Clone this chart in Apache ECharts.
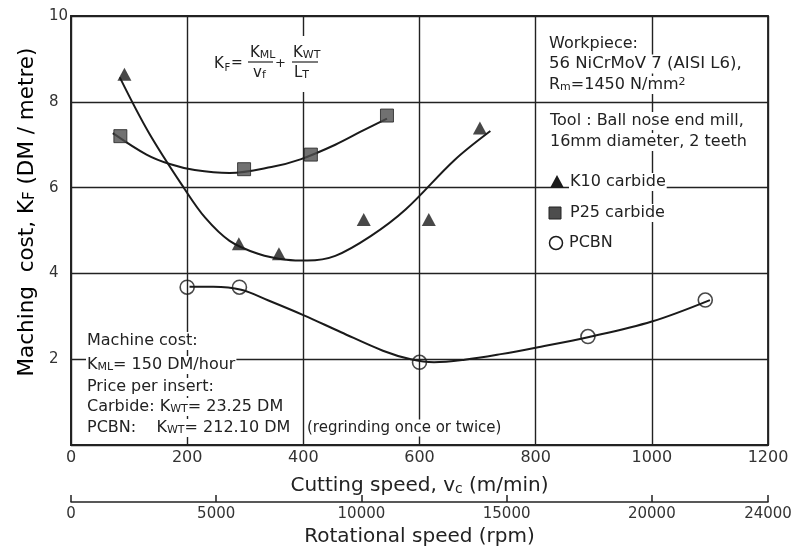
<!DOCTYPE html>
<html>
<head>
<meta charset="utf-8">
<script src="https://cdn.jsdelivr.net/npm/echarts@6/dist/echarts.min.js"></script>
<style>
  html, body { margin: 0; padding: 0; background: #fff; }
  #chart { width: 797px; height: 552px; }
</style>
</head>
<body>
<div id="chart"></div>
<script>
// Measured machining cost K_F (DM per metre) against cutting speed v_c (m/min)
const k10Speed = [92, 289, 358, 504, 616, 704];
const k10Cost  = [8.64, 4.69, 4.46, 5.26, 5.26, 7.39];
const p25Speed = [85, 298, 413, 544];
const p25Cost  = [7.2, 6.43, 6.77, 7.68];
const pcbnSpeed = [200, 290, 600, 890, 1092];
const pcbnCost  = [3.68, 3.68, 1.93, 2.53, 3.38];

// Hand-fitted trend curves through each tool's results
const k10FitSpeed = [84, 134, 195, 231, 273, 322, 371, 407, 455, 516, 576, 660, 722];
const k10FitCost  = [8.57, 7.28, 5.98, 5.3, 4.76, 4.46, 4.32, 4.30, 4.41, 4.87, 5.49, 6.64, 7.32];
const p25FitSpeed = [72, 130, 170, 213, 273, 345, 395, 455, 504, 544];
const p25FitCost  = [7.27, 6.77, 6.55, 6.41, 6.34, 6.48, 6.66, 7.0, 7.34, 7.61];
const pcbnFitSpeed = [204, 245, 293, 340, 400, 465, 537, 585, 625, 678, 740, 800, 892, 1000, 1100];
const pcbnFitCost  = [3.69, 3.69, 3.62, 3.37, 3.03, 2.63, 2.2, 2.0, 1.93, 1.99, 2.12, 2.27, 2.52, 2.88, 3.38];

// Axis ranges and tick steps
const speedRange = [0, 1200];   const speedStep = 200;
const rpmRange = [0, 24000];    const rpmStep = 5000;
const costRange = [0, 10];      const costStep = 2;

const FONT = 'DejaVu Sans';
const INK = '#222';

const pairs = (xs, ys) => xs.map((x, i) => [x, ys[i]]);

const subRich = (size) => ({
  t: { fontFamily: FONT, fontSize: size, color: INK },
  s: { fontFamily: FONT, fontSize: Math.round(size * 0.7), color: INK, verticalAlign: 'bottom', lineHeight: 7 },
  p: { fontFamily: FONT, fontSize: Math.round(size * 0.7), color: INK, verticalAlign: 'top', lineHeight: 8 }
});

function note(x, y, text, size, bg) {
  return {
    type: 'text', x: x, y: y, z: 20,
    style: {
      text: text, rich: subRich(size),
      fontFamily: FONT, fontSize: size, fill: INK,
      verticalAlign: 'middle', align: 'left',
      backgroundColor: bg ? '#fff' : 'transparent',
      padding: bg ? [1, 1] : 0
    }
  };
}

function plain(x, y, text, size) {
  return {
    type: 'text', x: x, y: y, z: 20,
    style: { text: text, fontFamily: FONT, fontSize: size, fill: INK, verticalAlign: 'middle', align: 'left' }
  };
}

const trend = (xs, ys) => ({
  type: 'line', data: pairs(xs, ys), smooth: 0.35,
  symbol: 'none', lineStyle: { color: '#1a1a1a', width: 2 }, z: 3, silent: true
});

const chart = echarts.init(document.getElementById('chart'), null, { renderer: 'canvas' });

chart.setOption({
  backgroundColor: '#fff',
  animation: false,
  grid: {
    left: 71, right: 29, top: 16, bottom: 101,
    show: true, borderColor: INK, borderWidth: 1.8, backgroundColor: 'transparent'
  },
  xAxis: [
    {
      type: 'value', min: speedRange[0], max: speedRange[1], interval: speedStep,
      position: 'bottom',
      name: '{t|Cutting speed, v}{s|c}{t| (m/min)}',
      nameLocation: 'middle', nameGap: 31,
      nameTextStyle: { rich: subRich(20) },
      axisLine: { show: true, lineStyle: { color: INK, width: 1.8 } },
      axisTick: { show: false },
      axisLabel: { fontFamily: FONT, fontSize: 16, color: '#333', margin: 5, formatter: v => String(v) },
      splitLine: { show: true, lineStyle: { color: INK, width: 1.4 } }
    },
    {
      type: 'value', min: rpmRange[0], max: rpmRange[1], interval: rpmStep,
      position: 'bottom', offset: 57,
      name: 'Rotational speed (rpm)',
      nameLocation: 'middle', nameGap: 21,
      nameTextStyle: { fontFamily: FONT, fontSize: 20, color: INK },
      axisLine: { show: true, lineStyle: { color: INK, width: 1.5 } },
      axisTick: { show: true, inside: true, length: 7, lineStyle: { color: INK, width: 1.5 } },
      axisLabel: { fontFamily: FONT, fontSize: 15, color: '#333', margin: 5, showMaxLabel: true, formatter: v => String(v) },
      splitLine: { show: false }
    }
  ],
  yAxis: {
    type: 'value', min: costRange[0], max: costRange[1], interval: costStep,
    axisLine: { show: true, lineStyle: { color: INK, width: 1.8 } },
    axisTick: { show: false },
    axisLabel: {
      fontFamily: FONT, fontSize: 15, color: '#333', margin: 22, align: 'left',
      formatter: v => (v === 0 ? '' : String(v))
    },
    splitLine: { show: true, lineStyle: { color: INK, width: 1.4 } }
  },
  series: [
    trend(k10FitSpeed, k10FitCost),
    trend(p25FitSpeed, p25FitCost),
    trend(pcbnFitSpeed, pcbnFitCost),
    {
      name: 'K10 carbide', type: 'scatter', data: pairs(k10Speed, k10Cost),
      symbol: 'triangle', symbolSize: [14, 13], itemStyle: { color: '#1a1a1a' }, z: 5
    },
    {
      name: 'P25 carbide', type: 'scatter', data: pairs(p25Speed, p25Cost),
      symbol: 'rect', symbolSize: 13, itemStyle: { color: '#4d4d4d', borderColor: '#222', borderWidth: 1 }, z: 5
    },
    {
      name: 'PCBN', type: 'scatter', data: pairs(pcbnSpeed, pcbnCost),
      symbol: 'circle', symbolSize: 14, itemStyle: { color: 'rgba(255,255,255,0)', borderColor: '#1a1a1a', borderWidth: 1.6 }, z: 5
    }
  ],
  graphic: [
    // vertical axis title
    {
      type: 'text', x: 27, y: 212, rotation: Math.PI / 2, z: 20,
      style: {
        text: '{t|Maching  cost, K}{s|F}{t| (DM / metre)}', rich: subRich(21.5),
        align: 'center', verticalAlign: 'middle'
      }
    },

    // cost formula
    { type: 'rect', z: 15, shape: { x: 206, y: 36, width: 132, height: 56 }, style: { fill: '#fff' } },
    plain(214, 64, 'K', 15),
    plain(224.5, 68, 'F', 10),
    plain(231, 63, '=', 14),
    note(250, 53, '{t|K}{s|ML}', 15, false),
    { type: 'line', z: 20, shape: { x1: 248, y1: 62, x2: 273, y2: 62 }, style: { stroke: INK, lineWidth: 1.2 } },
    note(253, 73, '{t|v}{s|f}', 15, false),
    plain(275, 64, '+', 13),
    note(293, 53, '{t|K}{s|WT}', 15, false),
    { type: 'line', z: 20, shape: { x1: 292, y1: 62, x2: 318, y2: 62 }, style: { stroke: INK, lineWidth: 1.2 } },
    note(294, 73, '{t|L}{s|T}', 15, false),

    // workpiece and tool description
    note(548, 44, '{t|Workpiece:}', 16, true),
    note(548, 64, '{t|56 NiCrMoV 7 (AISI L6),}', 16.5, true),
    note(548, 85, '{t|R}{s|m}{t|=1450 N/mm}{p|2}', 16, true),
    note(549, 121, '{t|Tool : Ball nose end mill,}', 16, true),
    note(549, 142, '{t|16mm diameter, 2 teeth}', 16, true),

    // key to the markers
    { type: 'polygon', z: 20, shape: { points: [[557, 175], [550, 188], [564, 188]] }, style: { fill: '#1a1a1a' } },
    note(569, 182, '{t|K10 carbide}', 16, true),
    { type: 'rect', z: 20, shape: { x: 549, y: 207, width: 12, height: 12 }, style: { fill: '#4d4d4d', stroke: '#222', lineWidth: 1 } },
    note(569, 213, '{t|P25 carbide}', 16, true),
    { type: 'circle', z: 20, shape: { cx: 556, cy: 243, r: 6.5 }, style: { fill: '#fff', stroke: '#1a1a1a', lineWidth: 1.5 } },
    note(568, 243, '{t|PCBN}', 16, true),

    // cost assumptions
    note(86, 341, '{t|Machine cost:}', 16, true),
    note(86, 365, '{t|K}{s|ML}{t|= 150 DM/hour}', 16, true),
    note(86, 387, '{t|Price per insert:}', 16, true),
    note(86, 407, '{t|Carbide: K}{s|WT}{t|= 23.25 DM}', 16, true),
    note(86, 428, '{t|PCBN:    K}{s|WT}{t|= 212.10 DM}', 16, true),
    note(306, 428, '{t|(regrinding once or twice)}', 15, true)
  ]
});
</script>
</body>
</html>
